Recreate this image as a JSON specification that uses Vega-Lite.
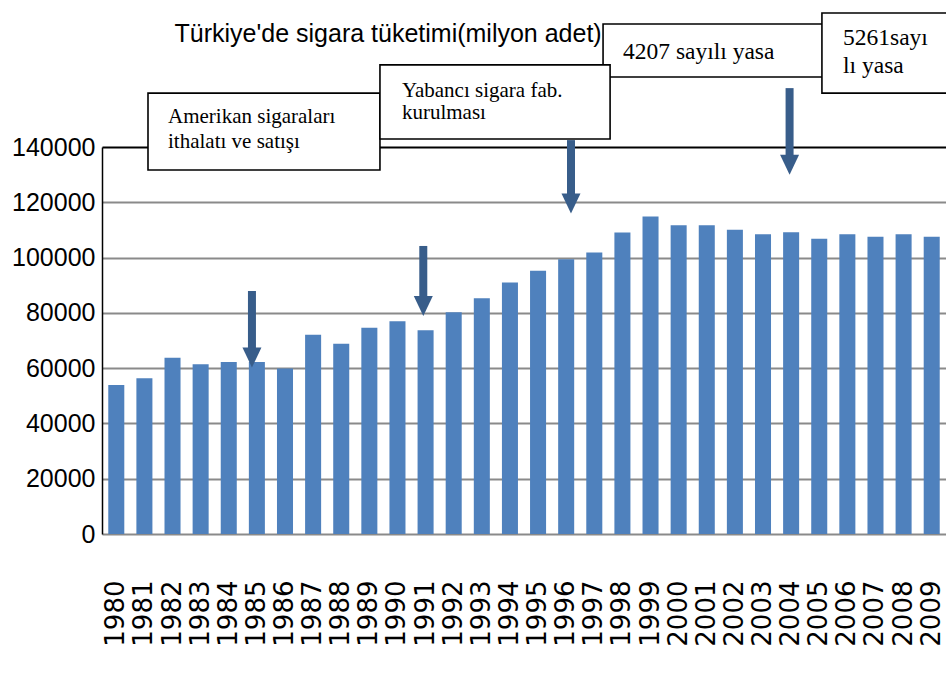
{
  "$schema": "https://vega.github.io/schema/vega-lite/v6.json",
  "width": 844,
  "height": 387,
  "autosize": {"type": "none"},
  "padding": {"left": 102, "top": 147, "right": 0, "bottom": 144},
  "background": "white",
  "config": {"view": {"stroke": null}},
  "datasets": {
    "bars": [
      {"year": "1980", "value": 53900}, {"year": "1981", "value": 56300}, {"year": "1982", "value": 63800},
      {"year": "1983", "value": 61400}, {"year": "1984", "value": 62200}, {"year": "1985", "value": 62200},
      {"year": "1986", "value": 59900}, {"year": "1987", "value": 72100}, {"year": "1988", "value": 68800},
      {"year": "1989", "value": 74600}, {"year": "1990", "value": 77000}, {"year": "1991", "value": 73700},
      {"year": "1992", "value": 80200}, {"year": "1993", "value": 85300}, {"year": "1994", "value": 91000},
      {"year": "1995", "value": 95200}, {"year": "1996", "value": 99400}, {"year": "1997", "value": 101800},
      {"year": "1998", "value": 109100}, {"year": "1999", "value": 114900}, {"year": "2000", "value": 111700},
      {"year": "2001", "value": 111700}, {"year": "2002", "value": 110100}, {"year": "2003", "value": 108400},
      {"year": "2004", "value": 109200}, {"year": "2005", "value": 106800}, {"year": "2006", "value": 108400},
      {"year": "2007", "value": 107500}, {"year": "2008", "value": 108400}, {"year": "2009", "value": 107500}
    ],
    "arrows": [
      {"ax": 5.33, "top": 87900, "bottom": 66900, "head": 63850},
      {"ax": 11.42, "top": 104200, "bottom": 85700, "head": 82500},
      {"ax": 16.67, "top": 142500, "bottom": 123000, "head": 119600},
      {"ax": 24.44, "top": 161300, "bottom": 136700, "head": 133600}
    ],
    "boxes": [
      {"id": 3, "ax": 17.81, "ax2": 25.63, "ay": 184500, "ay2": 165300},
      {"id": 4, "ax": 25.59, "ax2": 31, "ay": 188500, "ay2": 159500},
      {"id": 1, "ax": 1.635, "ax2": 9.88, "ay": 159500, "ay2": 131700},
      {"id": 2, "ax": 9.88, "ax2": 18.06, "ay": 169700, "ay2": 142900}
    ],
    "labels": [
      {"box": 1, "ax": 2.346, "ay": 148700, "label": "Amerikan sigaraları"},
      {"box": 1, "ax": 2.346, "ay": 139500, "label": "ithalatı ve satışı"},
      {"box": 2, "ax": 10.66, "ay": 158200, "label": "Yabancı sigara fab."},
      {"box": 2, "ax": 10.66, "ay": 150000, "label": "kurulması"},
      {"box": 3, "ax": 18.52, "ay": 171700, "label": "4207 sayılı yasa"},
      {"box": 4, "ax": 26.34, "ay": 176900, "label": "5261sayı"},
      {"box": 4, "ax": 26.34, "ay": 166700, "label": "lı yasa"}
    ],
    "title": [
      {"ax": 10.17, "ay": 178000, "label": "Türkiye'de sigara tüketimi(milyon adet)"}
    ]
  },
  "layer": [
    {
      "data": {"name": "bars"},
      "mark": {"type": "bar", "color": "#4f81bd"},
      "encoding": {
        "x": {
          "field": "year", "type": "nominal", "sort": null,
          "scale": {"paddingInner": 0.43, "paddingOuter": 0.223},
          "axis": {
            "title": null, "labelAngle": -90, "labelFont": "DejaVu Sans", "labelFontSize": 26,
            "labelColor": "black", "labelPadding": 46, "ticks": false, "domain": false
          }
        },
        "y": {
          "field": "value", "type": "quantitative",
          "scale": {"domain": [0, 140000], "nice": false},
          "axis": {
            "title": null, "values": [0, 20000, 40000, 60000, 80000, 100000, 120000, 140000],
            "format": "d", "labelFont": "Liberation Sans",
            "labelFontSize": 25, "labelColor": "black", "labelPadding": 7, "ticks": false,
            "domainColor": "black", "domainWidth": 1.5,
            "gridColor": {"condition": {"test": "datum.value === 140000", "value": "black"}, "value": "#8a8a8a"},
            "gridWidth": 2, "gridOpacity": 1
          }
        }
      }
    },
    {
      "data": {"name": "title"},
      "mark": {"type": "text", "align": "center", "baseline": "alphabetic", "font": "Liberation Sans", "fontSize": 25, "color": "black"},
      "encoding": {
        "x": {"field": "ax", "type": "quantitative", "scale": {"domain": [0, 30], "nice": false, "zero": false}, "axis": null},
        "y": {"field": "ay", "type": "quantitative", "scale": {"domain": [0, 140000], "nice": false}},
        "text": {"field": "label"}
      }
    },
    {
      "data": {"name": "arrows"},
      "mark": {"type": "rule", "color": "#385d8a", "strokeWidth": 8, "strokeCap": "butt"},
      "encoding": {
        "x": {"field": "ax", "type": "quantitative", "scale": {"domain": [0, 30], "nice": false, "zero": false}, "axis": null},
        "y": {"field": "top", "type": "quantitative", "scale": {"domain": [0, 140000], "nice": false}},
        "y2": {"field": "bottom"}
      }
    },
    {
      "data": {"name": "arrows"},
      "mark": {"type": "point", "shape": "M-0.95,-1L0.95,-1L0,1Z", "filled": true, "color": "#385d8a", "opacity": 1, "size": 400, "strokeWidth": 0},
      "encoding": {
        "x": {"field": "ax", "type": "quantitative", "scale": {"domain": [0, 30], "nice": false, "zero": false}, "axis": null},
        "y": {"field": "head", "type": "quantitative", "scale": {"domain": [0, 140000], "nice": false}}
      }
    },
    {
      "data": {"name": "boxes"},
      "mark": {"type": "rect", "fill": "white", "stroke": "black", "strokeWidth": 1.6},
      "encoding": {
        "x": {"field": "ax", "type": "quantitative", "scale": {"domain": [0, 30], "nice": false, "zero": false}, "axis": null},
        "x2": {"field": "ax2"},
        "y": {"field": "ay", "type": "quantitative", "scale": {"domain": [0, 140000], "nice": false}},
        "y2": {"field": "ay2"}
      }
    },
    {
      "data": {"name": "labels"},
      "transform": [{"filter": "datum.box <= 2"}],
      "mark": {"type": "text", "align": "left", "baseline": "alphabetic", "font": "Liberation Serif", "fontSize": 21, "color": "black"},
      "encoding": {
        "x": {"field": "ax", "type": "quantitative", "scale": {"domain": [0, 30], "nice": false, "zero": false}, "axis": null},
        "y": {"field": "ay", "type": "quantitative", "scale": {"domain": [0, 140000], "nice": false}},
        "text": {"field": "label"}
      }
    },
    {
      "data": {"name": "labels"},
      "transform": [{"filter": "datum.box > 2"}],
      "mark": {"type": "text", "align": "left", "baseline": "alphabetic", "font": "Liberation Serif", "fontSize": 23.5, "color": "black"},
      "encoding": {
        "x": {"field": "ax", "type": "quantitative", "scale": {"domain": [0, 30], "nice": false, "zero": false}, "axis": null},
        "y": {"field": "ay", "type": "quantitative", "scale": {"domain": [0, 140000], "nice": false}},
        "text": {"field": "label"}
      }
    }
  ],
  "resolve": {"scale": {"x": "independent"}}
}
